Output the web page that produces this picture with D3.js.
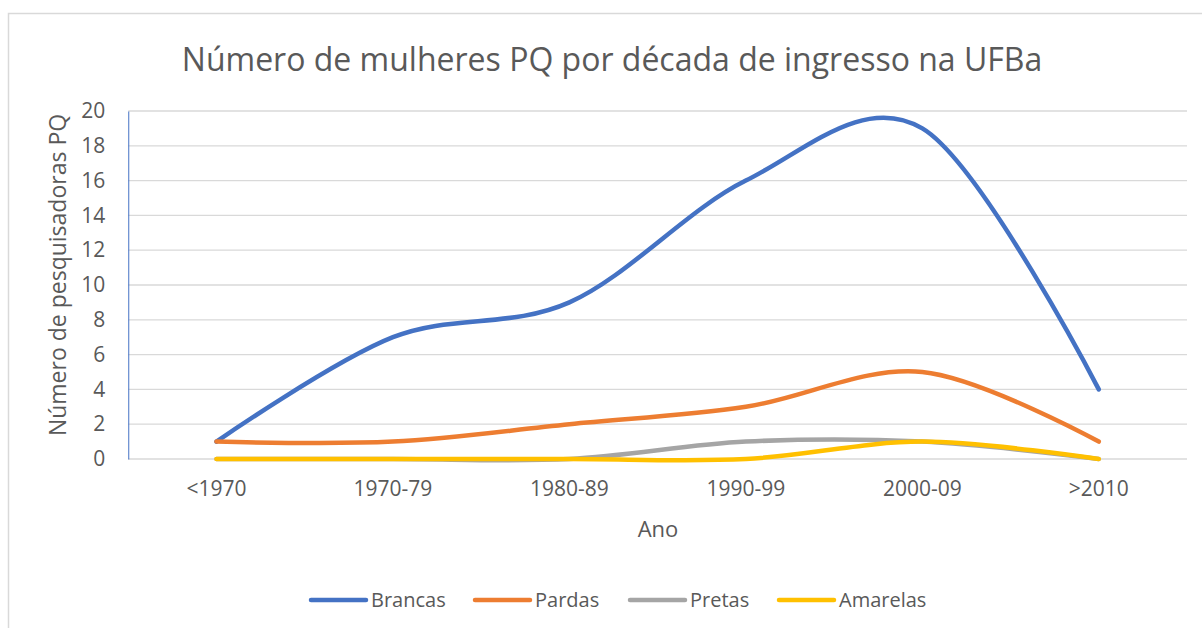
<!DOCTYPE html>
<html><head><meta charset="utf-8">
<script src="https://cdn.jsdelivr.net/npm/d3@7"></script>
<style>body{margin:0;background:#fff;} text{font-family:"Open Sans",sans-serif;fill:#595959;}</style>
</head><body>
<svg id="c" width="1202" height="628"></svg>
<script>
const categories = ["<1970","1970-79","1980-89","1990-99","2000-09",">2010"];
const brancas = [1,7,9,16,19,4];
const pardas = [1,1,2,3,5,1];
const pretas = [0,0,0,1,1,0];
const amarelas = [0,0,0,0,1,0];
const seriesNames = ["Brancas","Pardas","Pretas","Amarelas"];
const seriesColors = ["#4472C4","#ED7D31","#A5A5A5","#FFC000"];
const yTicks = [0,2,4,6,8,10,12,14,16,18,20];
const title = "Número de mulheres PQ por década de ingresso na UFBa";
const yTitle = "Número de pesquisadoras PQ";
const xTitle = "Ano";

const svg = d3.select("#c");
const series = [brancas,pardas,pretas,amarelas];

// frame
svg.append("path").attr("d","M8.5,628 V13.5 H1202").attr("fill","none").attr("stroke","#D9D9D9").attr("stroke-width",1.5);

const L=128.25, R=1187, T=111, B=459;
const x = d3.scaleBand().domain(categories).range([L,R]);
const y = d3.scaleLinear().domain([0,20]).range([B,T]);

// gridlines
svg.append("g").selectAll("line").data(yTicks).join("line")
  .attr("x1",L).attr("x2",R).attr("y1",d=>y(d)).attr("y2",d=>y(d))
  .attr("stroke","#D9D9D9").attr("stroke-width",1.3);

// y axis
const ya = svg.append("g").attr("transform",`translate(${L},0)`)
  .call(d3.axisLeft(y).tickValues(yTicks).tickSize(0).tickPadding(23));
ya.select(".domain").attr("stroke","#4472C4").attr("stroke-width",1);
ya.selectAll("text").attr("font-size",21).attr("fill","#595959").attr("font-family","Open Sans");

// x axis
const xa = svg.append("g").attr("transform",`translate(0,${B})`)
  .call(d3.axisBottom(x).tickSize(0).tickPadding(22));
xa.select(".domain").remove();
xa.selectAll("text").attr("font-size",21).attr("fill","#595959").attr("font-family","Open Sans");

// lines
const line = d3.line().x((d,i)=>x(categories[i])+x.bandwidth()/2).y(d=>y(d)).curve(d3.curveCardinal.tension(0));
svg.append("g").selectAll("path").data(series).join("path")
  .attr("d",d=>line(d)).attr("fill","none")
  .attr("stroke",(d,i)=>seriesColors[i]).attr("stroke-width",4.5)
  .attr("stroke-linecap","round").attr("stroke-linejoin","round");

// titles
svg.append("text").attr("x",612).attr("y",71).attr("text-anchor","middle").attr("font-size",32).text(title);
svg.append("text").attr("transform","translate(66,275) rotate(-90)").attr("text-anchor","middle").attr("font-size",23).text(yTitle);
svg.append("text").attr("x",658).attr("y",537).attr("text-anchor","middle").attr("font-size",22).text(xTitle);

// legend
const legX = [311,475,630,779];
const lg = svg.append("g").selectAll("g").data(seriesNames).join("g")
  .attr("transform",(d,i)=>`translate(${legX[i]},600)`);
lg.append("line").attr("x1",0).attr("x2",55).attr("stroke",(d,i)=>seriesColors[i]).attr("stroke-width",4.5).attr("stroke-linecap","round");
lg.append("text").attr("x",60).attr("y",7).attr("font-size",20).text(d=>d);
</script>
</body></html>
